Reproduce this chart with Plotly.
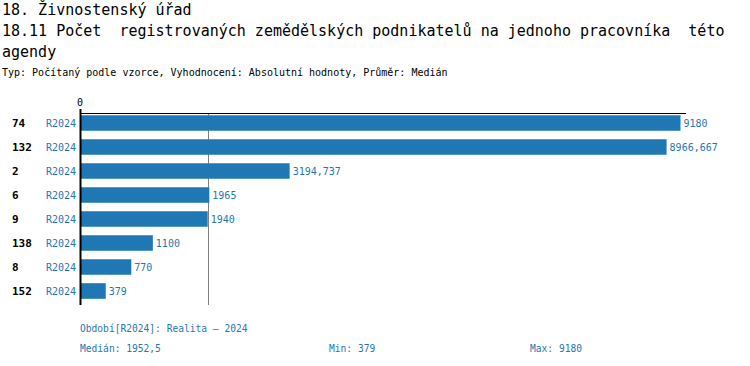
import plotly.graph_objects as go

categories = ["74", "132", "2", "6", "9", "138", "8", "152"]
period_labels = ["R2024"] * 8
values = [9180, 8966.667, 3194.737, 1965, 1940, 1100, 770, 379]
median_value = 1952.5
min_value = 379
max_value = 9180

title1 = "18. Živnostenský úřad"
title2 = "18.11 Počet  registrovaných zemědělských podnikatelů na jednoho pracovníka  této"
title3 = "agendy"
subtitle = "Typ: Počítaný podle vzorce, Vyhodnocení: Absolutní hodnoty, Průměr: Medián"
footer1 = "Období[R2024]: Realita – 2024"


def fmt(v):
    s = f"{v:.3f}".rstrip("0").rstrip(".")
    return s.replace(".", ",")


W, H = 750, 366
L, R, T, B = 81, 64, 111, 63
PW = W - L - R
PH = H - T - B


def px_x(x):
    return (x - L) / PW


def px_y(y):
    return (H - B - y) / PH


FONT = "DejaVu Sans Mono"
BLUE = "#1f77b4"

fig = go.Figure()
fig.add_trace(go.Bar(
    x=values, y=categories, orientation="h",
    marker=dict(color=BLUE, line=dict(width=0)),
    text=[fmt(v) for v in values], textposition="outside",
    textfont=dict(family=FONT, size=10, color=BLUE),
    cliponaxis=False, constraintext="none", hoverinfo="skip",
))

annotations = []
for i, (c, p) in enumerate(zip(categories, period_labels)):
    annotations.append(dict(x=px_x(10), y=i, xref="paper", yref="y", text=f"<b>{c}</b>",
                            showarrow=False, xanchor="left", yanchor="middle",
                            font=dict(family=FONT, size=11, color="#000")))
    annotations.append(dict(x=px_x(78), y=i, xref="paper", yref="y", text=p,
                            showarrow=False, xanchor="right", yanchor="middle",
                            font=dict(family=FONT, size=10, color=BLUE)))

def txt(x, y, s, size, color="#000", anchor="left"):
    annotations.append(dict(x=px_x(x), y=px_y(y), xref="paper", yref="paper", text=s,
                            showarrow=False, xanchor=anchor, yanchor="middle",
                            font=dict(family=FONT, size=size, color=color)))

txt(0, 9, title1, 15)
txt(0, 31, title2, 15)
txt(0, 52, title3, 15)
txt(0, 73, subtitle, 10)
txt(80, 103, "0", 10, anchor="center")
txt(78, 328, footer1, 9.6, color=BLUE)
txt(78, 348, f"Medián: {fmt(median_value)}", 9.6, color=BLUE)
txt(327, 348, f"Min: {fmt(min_value)}", 9.6, color=BLUE)
txt(528, 348, f"Max: {fmt(max_value)}", 9.6, color=BLUE)

shapes = [
    dict(type="line", xref="x", yref="paper", x0=median_value, x1=median_value,
         y0=px_y(305), y1=px_y(113), line=dict(color="#808080", width=1), layer="below"),
    dict(type="line", xref="paper", yref="paper", x0=0, x1=px_x(686),
         y0=px_y(113.5), y1=px_y(113.5), line=dict(color="#000", width=1)),
    dict(type="line", xref="paper", yref="paper", x0=px_x(80.5), x1=px_x(80.5),
         y0=px_y(305), y1=px_y(109), line=dict(color="#000", width=2)),
]

fig.update_layout(
    width=W, height=H, margin=dict(l=L, r=R, t=T, b=B),
    paper_bgcolor="white", plot_bgcolor="white",
    showlegend=False, bargap=0.35,
    xaxis=dict(range=[0, 9264], visible=False, fixedrange=True),
    yaxis=dict(type="category", categoryorder="array", categoryarray=categories,
               range=[len(categories) - 0.5, -0.5], visible=False, fixedrange=True),
    annotations=annotations, shapes=shapes,
    font=dict(family=FONT),
)

fig.write_html("out.html", config={"displayModeBar": False},
               post_script="document.body.style.margin='0';document.body.style.overflow='hidden';")
